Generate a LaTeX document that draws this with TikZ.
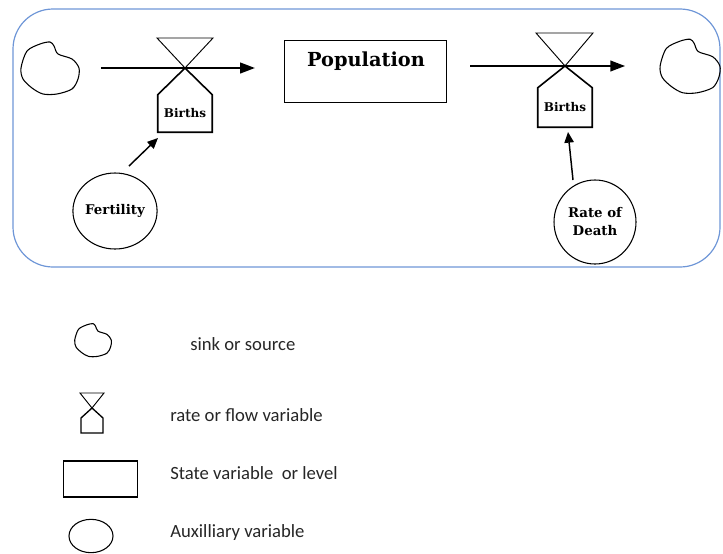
\documentclass[tikz,border=0pt]{standalone}
\usepackage{fontspec}
\setmainfont{Carlito}
\newfontfamily\dserif{DejaVu Serif}
\usetikzlibrary{arrows.meta,shapes.geometric}
\definecolor{frameblue}{RGB}{110,150,215}
\newcommand{\cloudshape}{plot[smooth cycle] coordinates {(-29,0) (-23,-17) (-10,-24) (0,-26) (4,-22) (8,-14) (22,-9) (29,0) (28,11) (22,21) (7,26) (-7,26) (-18,20) (-27,11)}}
\tikzset{
  flowarrow/.style={line width=1.3pt,-{Triangle[length=11pt,width=8pt]}},
  infoarrow/.style={line width=1.1pt,-{Triangle[length=8pt,width=7pt]}},
  valvetop/.style={line width=0.7pt},
  valvebot/.style={line width=1.2pt},
  cloudline/.style={line width=0.8pt},
  mainlabel/.style={font=\dserif\bfseries},
  auxnode/.style={draw,ellipse,line width=0.8pt,inner sep=0pt,align=center,font=\dserif\bfseries\fontsize{10}{13.5}\selectfont},
  legendtext/.style={anchor=west,inner sep=0pt,text=black!85,font=\fontsize{14}{16}\selectfont},
}
\begin{document}
\begin{tikzpicture}[x=0.75pt,y=-0.75pt]
\useasboundingbox (0,0) rectangle (723,553);
% frame
\draw[frameblue,line width=0.9pt,rounded corners=30pt] (13,9) rectangle (720,267);
% clouds (invisible nodes, drawn shape)
\node[minimum width=45pt,minimum height=40pt,inner sep=0pt] (cloudL) at (50,68) {};
\node[minimum width=45pt,minimum height=40pt,inner sep=0pt] (cloudR) at (690,66) {};
\draw[cloudline,shift={(cloudL.center)}] \cloudshape;
\draw[cloudline,shift={(cloudR.center)},scale=1.03] \cloudshape;
% stock
\node[draw,line width=0.9pt,minimum width=122pt,minimum height=46pt,inner sep=0pt] (pop) at (365.5,71.5) {};
\node[mainlabel,font=\dserif\bfseries\fontsize{14.5}{16}\selectfont] (poplabel) at (366,61) {Population};
% valves
\node[minimum width=40.5pt,minimum height=27.75pt,inner sep=0pt,font=\dserif\bfseries\fontsize{9}{10}\selectfont] (b1) at (185,113.5) {\raisebox{-3pt}{Births}};
\node[minimum width=40.5pt,minimum height=29.25pt,inner sep=0pt,font=\dserif\bfseries\fontsize{9}{10}\selectfont] (b2) at (565,107.5) {\raisebox{-3pt}{Births}};
\coordinate (v1) at (185,68);
\coordinate (v2) at (565,66);
\draw[valvetop] (157,38) -- (213,38) -- (v1) -- cycle;
\draw[valvetop] (536,33) -- (593,33) -- (v2) -- cycle;
\draw[valvebot] (v1) -- (b1.north west) -- (b1.south west) -- (b1.south east) -- (b1.north east) -- cycle;
\draw[valvebot] (v2) -- (b2.north west) -- (b2.south west) -- (b2.south east) -- (b2.north east) -- cycle;
% flows
\draw[flowarrow,shorten <=15.5pt,shorten >=21.5pt] (cloudL.east) -- (cloudL.east -| pop.west);
\draw[flowarrow,shorten <=17pt,shorten >=26pt] (pop.east |- cloudR.west) -- (cloudR.west);
% auxiliaries
\node[auxnode,minimum width=61.5pt,minimum height=57pt] (fert) at (115,211) {Fertility};
\node[auxnode,minimum width=61.5pt,minimum height=63pt] (death) at (595,222) {Rate of\\Death};
\coordinate (fa) at (129,166);
\coordinate (fb) at (158,138);
\coordinate (da) at (573,180);
\coordinate (db) at (568,132);
\draw[infoarrow] (fa) -- (fb);
\draw[infoarrow] (da) -- (db);
% legend
\node[minimum width=28pt,minimum height=25pt,inner sep=0pt] (lcloud) at (93,340) {};
\draw[line width=0.8pt,shift={(lcloud.center)},scale=0.63] \cloudshape;
\node[legendtext] (lt1) at (190,344) {sink or source};
\coordinate (lv) at (92,408);
\draw[line width=0.7pt] (80,393) -- (104,393) -- (lv) -- cycle;
\draw[line width=1pt] (lv) -- (81,418) -- (81,433) -- (103,433) -- (103,418) -- cycle;
\node[legendtext] (lt2) at (170,415) {rate or flow variable};
\node[draw,line width=0.9pt,minimum width=56pt,minimum height=27pt,inner sep=0pt] (lrect) at (100.5,479) {};
\node[legendtext] (lt3) at (170,473) {State variable\ \ or level};
\node[draw,ellipse,line width=0.8pt,minimum width=33pt,minimum height=25pt,inner sep=0pt] (lell) at (91,536) {};
\node[legendtext] (lt4) at (170,533) {Auxilliary variable};
\end{tikzpicture}
\end{document}
